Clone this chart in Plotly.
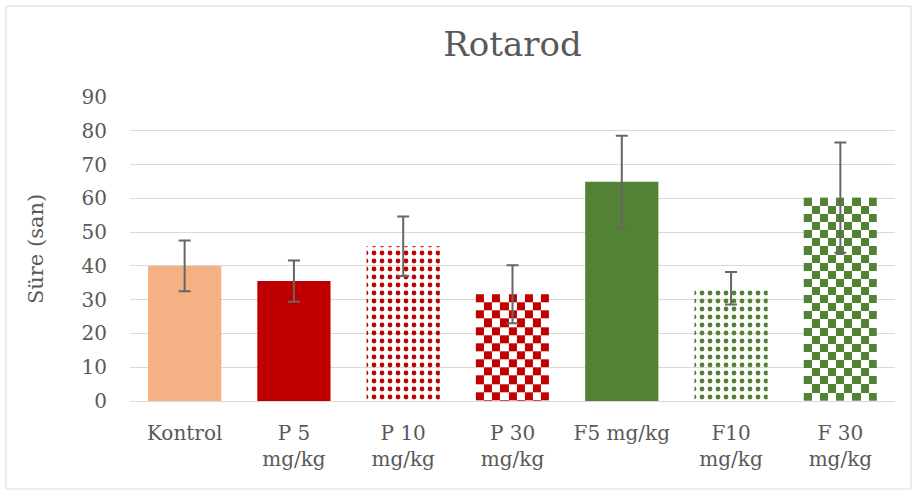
import plotly.graph_objects as go
import numpy as np

# ---- data ----
categories = ["Kontrol", "P 5<br>mg/kg", "P 10<br>mg/kg", "P 30<br>mg/kg",
              "F5 mg/kg", "F10<br>mg/kg", "F 30<br>mg/kg"]
means = [40.0, 35.5, 45.8, 31.6, 64.9, 33.4, 60.2]
errors = [7.5, 6.1, 8.8, 8.6, 13.6, 4.8, 16.3]
y_ticks = [0, 10, 20, 30, 40, 50, 60, 70, 80, 90]

# ---- styles ----
PEACH = "#F4B183"
RED = "#C00000"
GREEN = "#548235"
TEXT = "#595959"
GRID = "#D9D9D9"
FONT = "DejaVu Serif"

fill_kind = ["solid", "solid", "confetti", "checker", "solid", "confetti", "checker"]
base_color = [PEACH, RED, RED, RED, GREEN, GREEN, GREEN]

W, H = 917, 495
ML, MR, MT, MB = 130, 22, 97, 94
plot_w = W - ML - MR
plot_h = H - MT - MB
y_max = 90
bar_w = 0.67
px_per_unit = plot_h / y_max
n_cols = 9
sq_px = (bar_w / 7 * plot_w) / n_cols  # approx square size in px
sq_units = sq_px / px_per_unit

fig = go.Figure()

# checkerboard fills (drawn beneath the bar trace that carries the error bars)
for i, (v, kind, col) in enumerate(zip(means, fill_kind, base_color)):
    if kind != "checker":
        continue
    xe = np.linspace(i - bar_w / 2, i + bar_w / 2, n_cols + 1)
    ye = list(np.arange(v, 0, -sq_units))
    ye.append(0.0)
    ye = ye[::-1]  # ascending, full rows aligned to the bar top
    n_rows = len(ye) - 1
    z = [[(n_rows - 1 - r + c + 1) % 2 for c in range(n_cols)] for r in range(n_rows)]
    fig.add_trace(go.Heatmap(
        x=xe, y=ye, z=z, zmin=0, zmax=1,
        colorscale=[[0, "white"], [1, col]], showscale=False,
        hoverinfo="skip", zsmooth=False,
    ))

shapes_p = ["." if k == "confetti" else "" for k in fill_kind]
marker_colors = ["rgba(0,0,0,0)" if k == "checker" else c for k, c in zip(fill_kind, base_color)]
fg = [c for c in base_color]
bg = ["white" if k == "confetti" else c for k, c in zip(fill_kind, base_color)]

fig.add_trace(go.Bar(
    x=list(range(len(categories))), y=means, width=bar_w,
    marker=dict(
        color=marker_colors, line=dict(width=0),
        pattern=dict(shape=shapes_p, fgcolor=fg, bgcolor=bg, size=8, solidity=0.28,
                     fillmode="replace"),
    ),
    error_y=dict(type="data", array=errors, visible=True, color="#666666",
                 thickness=2, width=6),
    showlegend=False,
))

fig.update_layout(
    width=W, height=H,
    margin=dict(l=ML, r=MR, t=MT, b=MB),
    paper_bgcolor="white", plot_bgcolor="white",
    font=dict(family=FONT, color=TEXT, size=19),
    title=dict(text="Rotarod", x=0.5, xref="paper", xanchor="center",
               y=0.91, yanchor="middle", yref="container",
               font=dict(family=FONT, size=34, color=TEXT)),
    showlegend=False,
    xaxis=dict(range=[-0.5, 6.5], tickvals=list(range(len(categories))),
               ticktext=categories, showgrid=False, zeroline=False,
               showline=False, ticks="", ticklabelstandoff=18,
               tickfont=dict(size=20, color=TEXT)),
    yaxis=dict(range=[0, y_max], tickvals=y_ticks, showgrid=True, gridcolor=GRID,
               gridwidth=1, zeroline=True, zerolinecolor=GRID, zerolinewidth=1,
               showline=False, ticks="", ticklabelstandoff=22,
               tickfont=dict(size=20, color=TEXT),
               title=dict(text="Süre (san)", standoff=32,
                          font=dict(size=21, color=TEXT))),
    shapes=[dict(type="rect", xref="paper", yref="paper",
                 x0=(6 - ML) / plot_w, x1=(911 - ML) / plot_w,
                 y0=(H - MB - 489) / plot_h, y1=(H - MB - 6) / plot_h,
                 line=dict(color=GRID, width=1), layer="below")],
)

fig.write_html("out.html", config={"displayModeBar": False},
               post_script="document.body.style.margin='0';document.body.style.overflow='hidden';")
